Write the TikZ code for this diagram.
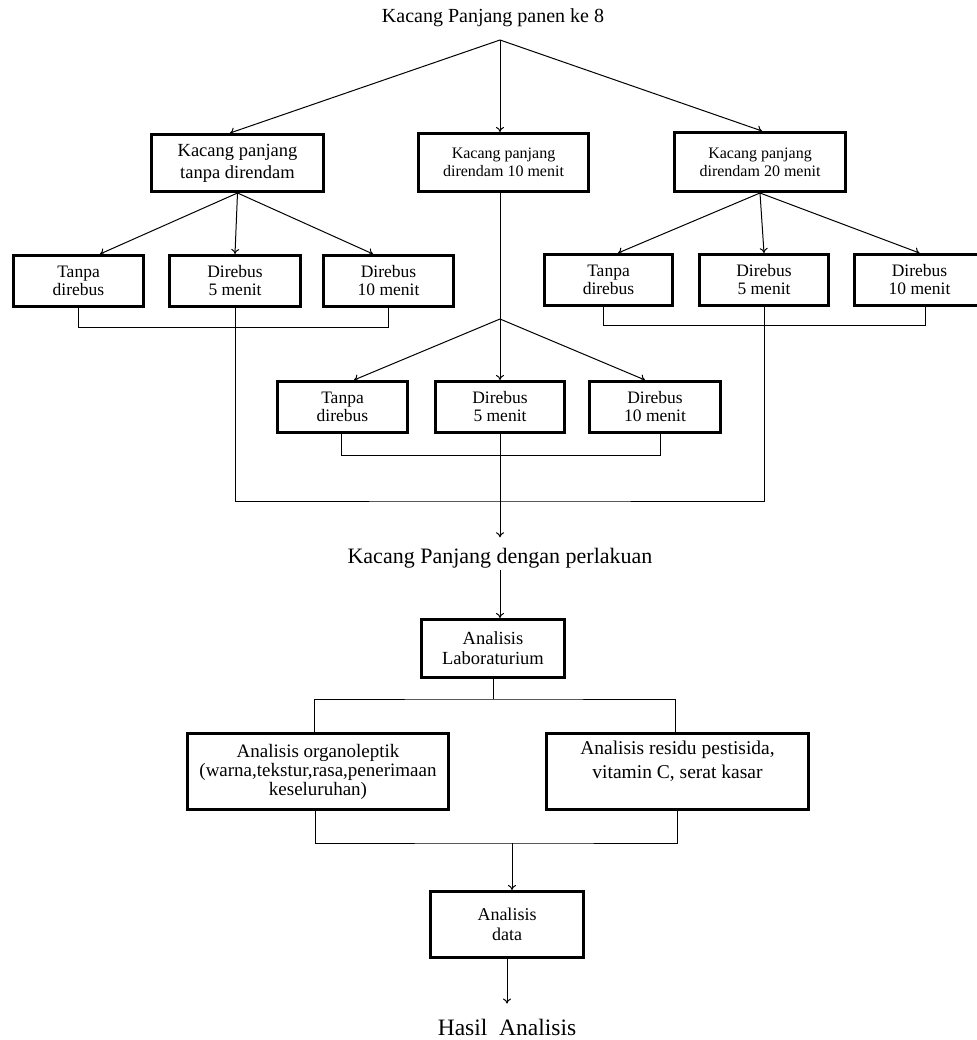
\documentclass[tikz,border=0pt]{standalone}
\usepackage{fontspec}
\setmainfont{Liberation Serif}
\usetikzlibrary{arrows.meta,calc}
\begin{document}
\begin{tikzpicture}[x=1pt,y=-1pt,
  box/.style={draw, line width=3pt, inner sep=0pt, align=center},
  txt/.style={inner sep=2pt},
  arr/.style={-{To[length=5pt,width=8pt]}, line width=1pt},
  ln/.style={line width=1pt},
  fs/.style 2 args={font=\fontsize{#1}{#2}\selectfont}]
\useasboundingbox (0,0) rectangle (976,1040);

% title
\node[txt, fs={20}{22}] (title) at (493,18) {Kacang Panjang panen ke 8};
\coordinate (root) at (500,40);

% first level
\node[box, minimum width=172, minimum height=57, fs={18.5}{22}] (b1) at (237.5,163) {Kacang panjang\\tanpa direndam};
\node[box, minimum width=170, minimum height=58, fs={16}{18}] (b2) at (503.5,162.5) {Kacang panjang\\direndam 10 menit};
\node[box, minimum width=171, minimum height=59, fs={16}{18}] (b3) at (760,162) {Kacang panjang\\direndam 20 menit};

% second level left
\node[box, minimum width=130, minimum height=51, fs={17.5}{18}] (L1) at (78.5,281) {Tanpa\\direbus};
\node[box, minimum width=131, minimum height=51, fs={17.5}{18}] (L2) at (235,281) {Direbus\\5 menit};
\node[box, minimum width=130, minimum height=51, fs={17.5}{18}] (L3) at (388.5,281) {Direbus\\10 menit};

% second level right
\node[box, minimum width=128, minimum height=51, fs={17.5}{18}] (R1) at (608.5,280) {Tanpa\\direbus};
\node[box, minimum width=129, minimum height=51, fs={17.5}{18}] (R2) at (764,280) {Direbus\\5 menit};
\node[box, minimum width=130, minimum height=51, fs={17.5}{18}] (R3) at (919.5,280) {Direbus\\10 menit};

% middle row
\coordinate (J) at (500,319);
\node[box, minimum width=130, minimum height=51, fs={17.5}{18}] (M1) at (342.5,407) {Tanpa\\direbus};
\node[box, minimum width=129, minimum height=51, fs={17.5}{18}] (M2) at (500,407) {Direbus\\5 menit};
\node[box, minimum width=131, minimum height=51, fs={17.5}{18}] (M3) at (655,407) {Direbus\\10 menit};

\coordinate (B) at (500,501);
\node[txt, fs={22}{24}] (perl) at (500,558) {Kacang Panjang dengan perlakuan};

\node[box, minimum width=143, minimum height=58, fs={18.5}{20}] (lab) at (493,648.5) {Analisis\\Laboraturium};

\node[box, minimum width=261, minimum height=76, fs={19}{19}] (A1) at (318,771.5) {Analisis organoleptik\\(warna,tekstur,rasa,penerimaan\\keseluruhan)};
\node[box, minimum width=262, minimum height=76, fs={19.5}{24}, text depth=24pt] (A2) at (677.5,771.5) {Analisis residu pestisida,\\vitamin C, serat kasar};

\coordinate (D) at (512,843);
\node[box, minimum width=153, minimum height=66, fs={18}{20}] (data) at (507,924.5) {Analisis\\data};
\node[txt, fs={23.5}{26}] (hasil) at (507,1027) {Hasil\hspace{0.5em}Analisis};

% connectors from root
\draw[arr] (root) -- ([xshift=-7.5pt]b1.north);
\draw[arr] (root) -- ([xshift=-3.5pt]b2.north);
\draw[arr] (root) -- ([xshift=2pt]b3.north);

% b1 children
\draw[arr] (b1.south) -- ([xshift=21.5pt]L1.north);
\draw[arr] (b1.south) -- (L2.north);
\draw[arr] (b1.south) -- ([xshift=-15.5pt]L3.north);

% b3 children
\draw[arr] (b3.south) -- ([xshift=9.5pt]R1.north);
\draw[arr] (b3.south) -- (R2.north);
\draw[arr] (b3.south) -- (R3.north);

% b2 to middle row
\draw[ln] (b2.south -| J) -- (J);
\draw[arr] (J) -- ([xshift=11.5pt]M1.north);
\draw[arr] (J) -- (M2.north);
\draw[arr] (J) -- ([xshift=-10pt]M3.north);

% brackets
\draw[ln] (L1.south) -- ++(0,19) -| (L3.south);
\draw[ln] ([xshift=-5.5pt]R1.south) -- ++(0,18) -| ([xshift=5.5pt]R3.south);
\draw[ln] ([xshift=-1pt]M1.south) -- ++(0,21) -| ([xshift=5pt]M3.south);
\draw[ln] (L2.south) |- (B) -| (R2.south);

% to perlakuan and lab
\draw[arr] (M2.south) -- ([yshift=8.5pt]perl.north);
\draw[arr] (perl.south) -- (perl.south |- lab.north);

% lab split
\draw[ln] (lab.south) -- ++(0,20) coordinate (lb);
\draw[ln] ([xshift=-4pt]A1.north) |- (lb) -| ([xshift=-2.5pt]A2.north);

% join to data
\draw[ln] ([xshift=-3pt]A1.south) |- (D) -| (A2.south);
\draw[arr] (D) -- (D |- data.north);
\draw[arr] (data.south) -- ([yshift=13pt]hasil.north);
\end{tikzpicture}
\end{document}
